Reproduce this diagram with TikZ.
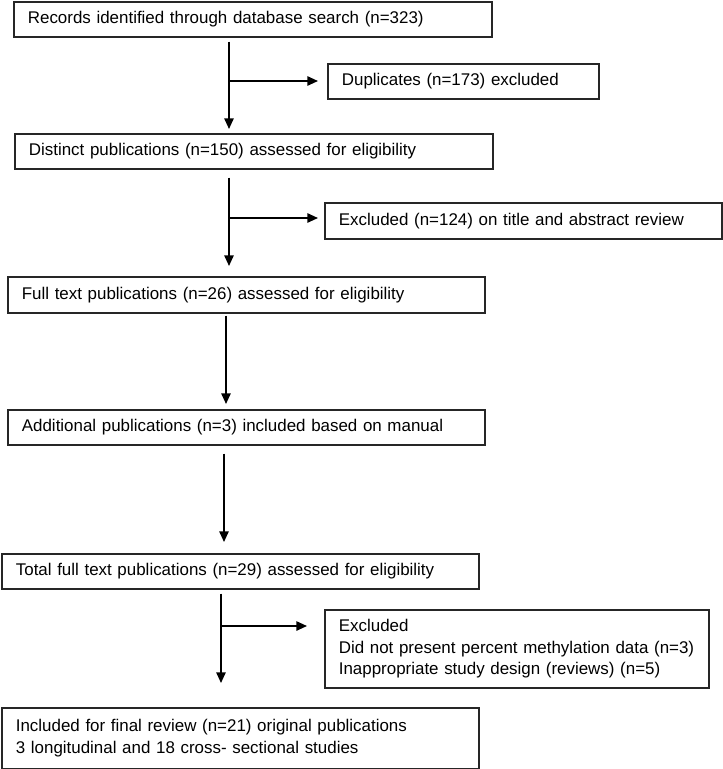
\documentclass[tikz,border=0pt]{standalone}
\usepackage{fontspec}
\setmainfont{Liberation Sans}
\usetikzlibrary{arrows.meta}

\tikzset{
	box/.style={draw=black!85, line width=1.3pt, anchor=north west, align=left, inner xsep=10.5pt, inner ysep=0pt, font=\fontsize{12.7pt}{16.3pt}\selectfont},
	flow/.style={line width=1.3pt, -{Triangle[length=8pt,width=7pt]}},
}

\begin{document}
\begin{tikzpicture}[x=0.75pt, y=-0.75pt]
		%%%%% START %%%%%
		\useasboundingbox (0,0) rectangle (723,769);
		
		\node[box, text width=337.5pt, minimum height=26.25pt] (records) at (13,0.8) {Records identified through database search (n=323)};
		\node[box, text width=182.25pt, minimum height=26.25pt] (dupl) at (327,63) {Duplicates (n=173) excluded};
		\node[box, text width=337.5pt, minimum height=26.25pt] (distinct) at (14,133) {Distinct publications (n=150) assessed for eligibility};
		\node[box, text width=276.75pt, minimum height=27pt] (titleex) at (324,202) {Excluded (n=124) on title and abstract review};
		\node[box, text width=336.75pt, minimum height=27pt] (fulltext) at (7,276) {Full text publications (n=26) assessed for eligibility};
		\node[box, text width=336.75pt, minimum height=26.25pt] (additional) at (7,409) {Additional publications (n=3) included based on manual};
		\node[box, text width=336.75pt, minimum height=26.25pt] (total) at (1,553) {Total full text publications (n=29) assessed for eligibility};
		\node[box, text width=267pt, minimum height=58.5pt] (fullex) at (324,609) {Excluded\\Did not present percent methylation data (n=3)\\Inappropriate study design (reviews) (n=5)};
		\node[box, text width=336.75pt, minimum height=45.75pt] (included) at (1,707) {Included for final review (n=21) original publications\\3 longitudinal and 18 cross- sectional studies};
		
		\coordinate (j1) at (229,81);
		\coordinate (j2) at (229,218);
		\coordinate (j3) at (226,360);
		\coordinate (j4) at (224,497);
		\coordinate (j5) at (221,626);
		
		\draw[flow, shorten <=3pt, shorten >=3pt] (records.south -| j1) -- (distinct.north -| j1);
		\draw[flow, shorten >=6.75pt] (j1) -- (j1 -| dupl.west);
		\draw[flow, shorten <=6pt, shorten >=7.5pt] (distinct.south -| j2) -- (fulltext.north -| j2);
		\draw[flow, shorten >=4.5pt] (j2) -- (j2 -| titleex.west);
		\draw[flow, shorten <=1.5pt, shorten >=3.75pt] (fulltext.south -| j3) -- (additional.north -| j3);
		\draw[flow, shorten <=6pt, shorten >=8.25pt] (additional.south -| j4) -- (total.north -| j4);
		\draw[flow, shorten <=3pt, shorten >=18pt] (total.south -| j5) -- (included.north -| j5);
		\draw[flow, shorten >=12.75pt] (j5) -- (j5 -| fullex.west);
		
		%%%%% END %%%%%
\end{tikzpicture}
\end{document}
